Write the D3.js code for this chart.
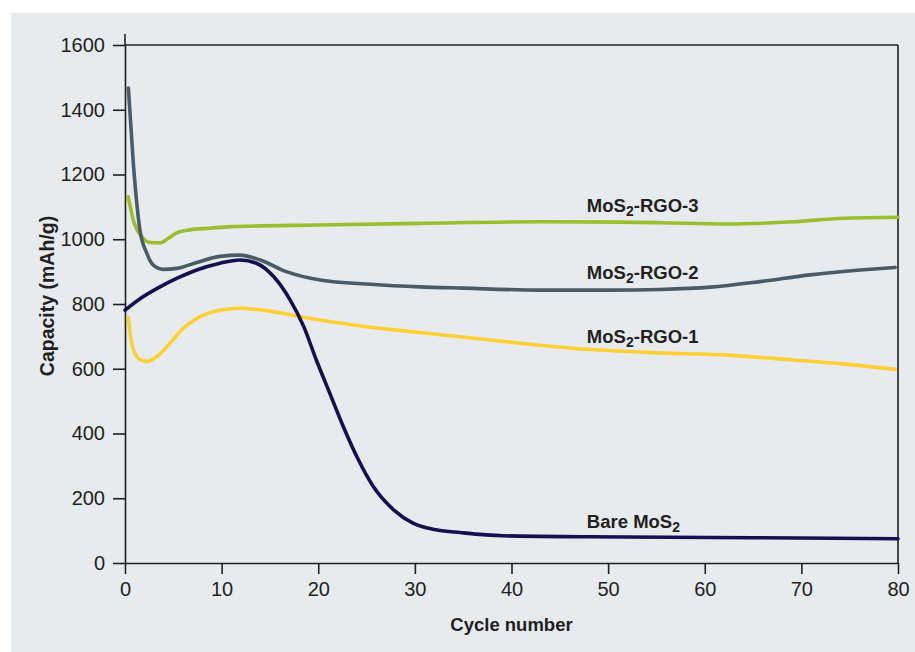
<!DOCTYPE html>
<html>
<head>
<meta charset="utf-8">
<script src="https://cdn.jsdelivr.net/npm/d3@7"></script>
<style>
  body { margin: 0; background: #ffffff; }
  svg { display: block; }
  .asse text { font-family: "Liberation Sans", Arial, sans-serif; font-size: 20px; fill: #231f20; }
  .asse path, .asse line { stroke: #231f20; stroke-width: 1.6; }
  .etichetta { font-family: "Liberation Sans", Arial, sans-serif; font-weight: bold; font-size: 18.5px; fill: #231f20; }
</style>
</head>
<body>
<script>
// dati: [ciclo, capacità mAh/g]
const rgo3 = [[0.34,1131],[0.86,1059],[1.73,1008],[2.59,990],[3.62,989],[4.49,1003],[5.35,1020],[6.73,1029],[8.8,1034],[10.9,1039],[20,1044],[30.5,1049],[43,1054],[51.2,1053],[55.4,1051],[62.3,1047],[69.2,1054],[74.3,1065],[80,1068]];
const rgo2 = [[0.35,1467],[0.86,1235],[1.55,1028],[2.25,957],[2.93,920],[3.96,907],[5.35,910],[7.42,928],[9.83,947],[11.9,951],[14,936],[16.7,900],[20.2,874],[25.4,861],[30.5,853],[35,849],[43,843],[50,843],[55.4,845],[60.6,852],[65.7,869],[70.9,890],[76.1,905],[79.7,913]];
const rgo1 = [[0.34,759],[0.69,679],[1.38,632],[2.25,622],[3.28,637],[4.66,679],[6.04,725],[7.76,761],[9.83,781],[11.9,787],[14.3,781],[18.1,761],[23.6,735],[28.8,717],[34.7,699],[40.9,679],[47.8,660],[55.4,649],[62.3,642],[69.2,627],[74.3,615],[79.7,598]];
const bare = [[0,781],[1.9,823],[3.62,853],[5.35,879],[7.42,905],[9.83,926],[11.9,936],[13.6,926],[15.4,884],[17.1,812],[18.5,730],[19.8,627],[21.2,524],[22.6,421],[24,328],[25.7,236],[27.8,164],[29.8,123],[32.3,102],[34.7,94],[39.1,84],[47.8,81],[65,78],[80,75]];

const tickX = [0, 10, 20, 30, 40, 50, 60, 70, 80];
const tickY = [0, 200, 400, 600, 800, 1000, 1200, 1400, 1600];

// etichette delle serie: nome, pedice, resto, posizione in unità dati
const etichette = [
  { pre: "MoS", sub: "2", post: "-RGO-3", ciclo: 47.8, cap: 1085 },
  { pre: "MoS", sub: "2", post: "-RGO-2", ciclo: 47.8, cap: 877 },
  { pre: "MoS", sub: "2", post: "-RGO-1", ciclo: 47.8, cap: 680 },
  { pre: "Bare MoS", sub: "2", post: "", ciclo: 47.8, cap: 107 }
];

const serie = [
  { dati: rgo3, colore: "#9cbe2e" },
  { dati: rgo2, colore: "#4a5a66" },
  { dati: rgo1, colore: "#fdd034" },
  { dati: bare, colore: "#180f50" }
];

const grafico = { sinistra: 125, destra: 898, alto: 45, basso: 563 };

let svg = d3.select("body").append("svg")
  .attr("width", 915)
  .attr("height", 652);

// sfondo grigio
svg.append("rect")
  .attr("x", 11).attr("y", 13)
  .attr("width", 904).attr("height", 639)
  .attr("fill", "#e7ebee");

let scalaX = d3.scaleLinear().domain([0, 80]).range([grafico.sinistra, grafico.destra]);
let scalaY = d3.scaleLinear().domain([0, 1600]).range([grafico.basso, grafico.alto]);

// cornice: lato alto e destro
svg.append("line")
  .attr("x1", scalaX(0)).attr("x2", scalaX(80))
  .attr("y1", scalaY(1600)).attr("y2", scalaY(1600))
  .attr("stroke", "#231f20").attr("stroke-width", 1.6);
svg.append("line")
  .attr("x1", scalaX(80)).attr("x2", scalaX(80))
  .attr("y1", scalaY(1600)).attr("y2", scalaY(0))
  .attr("stroke", "#231f20").attr("stroke-width", 1.6);
// asse sinistro che sporge sopra
svg.append("line")
  .attr("x1", scalaX(0)).attr("x2", scalaX(0))
  .attr("y1", scalaY(1600) - 11).attr("y2", scalaY(1600))
  .attr("stroke", "#231f20").attr("stroke-width", 1.6);

let asseX = d3.axisBottom(scalaX).tickValues(tickX).tickFormat(d3.format("d"))
  .tickSize(11).tickPadding(8).tickSizeOuter(0);
svg.append("g")
  .attr("class", "asse")
  .attr("transform", `translate(0,${grafico.basso})`)
  .call(asseX);

let asseY = d3.axisLeft(scalaY).tickValues(tickY).tickFormat(d3.format("d"))
  .tickSize(12).tickPadding(8).tickSizeOuter(0);
svg.append("g")
  .attr("class", "asse")
  .attr("transform", `translate(${grafico.sinistra},0)`)
  .call(asseY);

// linee
let linea = d3.line()
  .x(d => scalaX(d[0]))
  .y(d => scalaY(d[1]))
  .curve(d3.curveMonotoneX);

serie.forEach(s => {
  svg.append("path")
    .datum(s.dati)
    .attr("fill", "none")
    .attr("stroke", s.colore)
    .attr("stroke-width", 3.6)
    .attr("stroke-linecap", "round")
    .attr("stroke-linejoin", "round")
    .attr("d", linea);
});

// etichette
etichette.forEach(e => {
  let t = svg.append("text")
    .attr("class", "etichetta")
    .attr("x", scalaX(e.ciclo))
    .attr("y", scalaY(e.cap));
  t.append("tspan").text(e.pre);
  t.append("tspan").attr("dy", 4).attr("font-size", "14px").text(e.sub);
  if (e.post) t.append("tspan").attr("dy", -4).text(e.post);
});

// titoli assi
svg.append("text")
  .attr("class", "etichetta")
  .attr("text-anchor", "middle")
  .attr("x", (grafico.sinistra + grafico.destra) / 2)
  .attr("y", 631)
  .text("Cycle number");

svg.append("text")
  .attr("class", "etichetta")
  .attr("text-anchor", "middle")
  .attr("font-size", "19.5px")
  .style("font-size", "19.5px")
  .attr("transform", "translate(54,296) rotate(-90)")
  .text("Capacity (mAh/g)");
</script>
</body>
</html>
